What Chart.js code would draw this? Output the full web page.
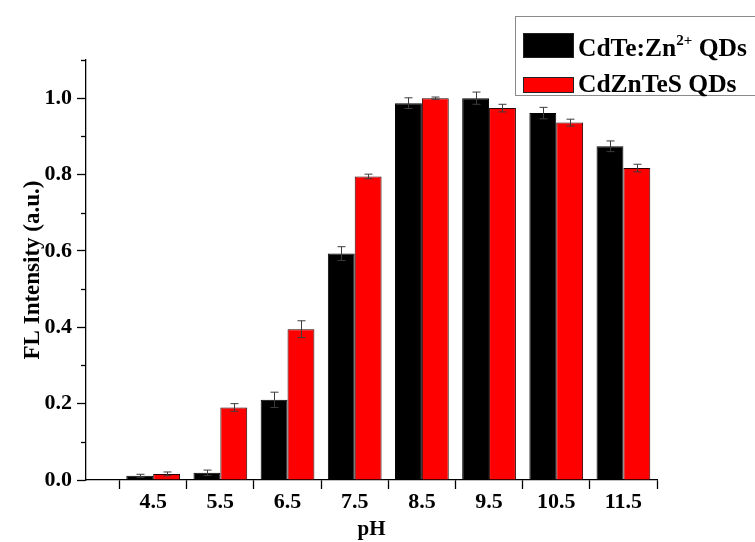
<!DOCTYPE html>
<html>
<head>
<meta charset="utf-8">
<script src="https://cdn.jsdelivr.net/npm/chart.js@4.4.1/dist/chart.umd.min.js"></script>
<style>
  html, body { margin: 0; padding: 0; background: #fff; }
  #wrap { position: relative; width: 755px; height: 542px; overflow: hidden; }
  #legendBox { position: absolute; left: 515px; top: 16px; width: 260px; height: 80px; border: 1.5px solid #8a8a8a; box-sizing: border-box; background: #fff; }
  .sw { position: absolute; left: 523px; width: 51px; box-sizing: border-box; border: 1px solid #222; }
  .lt { position: absolute; left: 578px; font: bold 25.5px "Liberation Serif", "Times New Roman", serif; line-height: 26px; white-space: nowrap; color: #000; }
  .lt sup { font-size: 15px; vertical-align: 0; position: relative; top: -11px; line-height: 0; }
</style>
</head>
<body>
<div id="wrap">
  <canvas id="c" width="755" height="542"></canvas>
  <div id="legendBox"></div>
</div>
<script>
// ---- data ----
const phLabels   = ['4.5', '5.5', '6.5', '7.5', '8.5', '9.5', '10.5', '11.5'];
const phValues   = [4.5, 5.5, 6.5, 7.5, 8.5, 9.5, 10.5, 11.5];
const xTickMarks = [4, 5, 6, 7, 8, 9, 10, 11, 12];
const seriesNames = ['CdTe:Zn²⁺ QDs', 'CdZnTeS QDs'];
const legendHtml  = ['CdTe:Zn<sup>2+</sup> QDs', 'CdZnTeS QDs'];
const cdteZn      = [0.011, 0.019, 0.210, 0.593, 0.987, 1.000, 0.961, 0.874];
const cdteZnErr   = [0.004, 0.007, 0.020, 0.018, 0.014, 0.016, 0.015, 0.014];
const cdZnTeS     = [0.016, 0.190, 0.395, 0.795, 1.000, 0.974, 0.936, 0.817];
const cdZnTeSErr  = [0.005, 0.010, 0.022, 0.006, 0.003, 0.010, 0.009, 0.010];
const yTickLabels = ['0.0', '0.2', '0.4', '0.6', '0.8', '1.0'];

const colors = ['#000000', '#ff0000'];
const borders = ['#000000', '#2a0000'];
const errs = [cdteZnErr, cdZnTeSErr];

const FONT = '"Liberation Serif", "Times New Roman", serif';

const errorBars = {
  id: 'errorBars',
  afterDatasetsDraw(chart) {
    const ctx = chart.ctx;
    const ys = chart.scales.y;
    ctx.save();
    ctx.strokeStyle = '#3c3c3c';
    ctx.lineWidth = 1;
    chart.data.datasets.forEach((ds, di) => {
      const meta = chart.getDatasetMeta(di);
      meta.data.forEach((bar, i) => {
        const v = ds.data[i].y, e = errs[di][i];
        const x = Math.round(bar.x) + 0.5;
        const t = ys.getPixelForValue(v + e), b = ys.getPixelForValue(v - e);
        const cap = 4;
        ctx.beginPath();
        ctx.moveTo(x, t); ctx.lineTo(x, b);
        ctx.moveTo(x - cap, t); ctx.lineTo(x + cap, t);
        ctx.moveTo(x - cap, b); ctx.lineTo(x + cap, b);
        ctx.stroke();
      });
    });
    ctx.restore();
  }
};

const minorTicks = {
  id: 'minorTicks',
  afterDraw(chart) {
    const ctx = chart.ctx;
    const ys = chart.scales.y;
    const x0 = chart.chartArea.left;
    ctx.save();
    ctx.strokeStyle = '#000';
    ctx.lineWidth = 1.3;
    ys.ticks.forEach(t => {
      const k = Math.round(t.value * 10);
      if (k % 2 !== 0) {
        const y = Math.round(ys.getPixelForValue(t.value)) + 0.5;
        ctx.beginPath();
        ctx.moveTo(x0 - 5, y); ctx.lineTo(x0, y);
        ctx.stroke();
      }
    });
    ctx.restore();
  }
};

const chart = new Chart(document.getElementById('c'), {
  type: 'bar',
  data: {
    datasets: [cdteZn, cdZnTeS].map((arr, di) => ({
      label: seriesNames[di],
      data: arr.map((v, i) => ({ x: phValues[i], y: v })),
      backgroundColor: colors[di],
      borderColor: borders[di],
      borderWidth: 1,
      categoryPercentage: 0.8,
      barPercentage: 1.0
    }))
  },
  options: {
    responsive: false,
    animation: false,
    layout: { padding: { left: 0, right: 98, top: 60, bottom: 0 } },
    plugins: { legend: { display: false }, tooltip: { enabled: false } },
    scales: {
      x: {
        type: 'linear',
        min: 3.5, max: 12,
        offset: false,
        afterBuildTicks: s => { s.ticks = xTickMarks.map(v => ({ value: v })); },
        afterFit: s => { s.height = 62; },
        border: { display: true, color: '#000', width: 1.3 },
        grid: {
          offset: false,
          drawOnChartArea: false, drawTicks: true, tickLength: 9,
          tickColor: '#000', tickWidth: 1.3
        },
        ticks: {
          autoSkip: false, maxRotation: 0, padding: 0,
          labelOffset: 33.6,
          color: '#000',
          font: { family: FONT, size: 22, weight: 'bold' },
          callback: v => {
            const i = phValues.findIndex(p => Math.abs(p - (v + 0.5)) < 1e-6);
            return i >= 0 ? phLabels[i] : '';
          }
        },
        title: {
          display: true, text: 'pH', color: '#000',
          font: { family: FONT, size: 21, weight: 'bold', lineHeight: 1.2 },
          padding: { top: 0, bottom: 0 }
        }
      },
      y: {
        min: 0, max: 1.1,
        afterFit: s => { s.width = 86; },
        border: { display: true, color: '#000', width: 1.3 },
        grid: {
          drawOnChartArea: false, drawTicks: true, tickLength: 9,
          tickColor: c => (c.tick && Math.round(c.tick.value * 10) % 2 === 0) ? '#000' : 'rgba(0,0,0,0)',
          tickWidth: 1.3
        },
        ticks: {
          stepSize: 0.1, autoSkip: false, padding: 5,
          color: '#000',
          font: { family: FONT, size: 22, weight: 'bold' },
          callback: v => {
            const k = Math.round(v * 10);
            return k % 2 === 0 ? (yTickLabels[k / 2] || '') : '';
          }
        },
        title: {
          display: true, text: 'FL Intensity (a.u.)', color: '#000',
          font: { family: FONT, size: 23, weight: 'bold', lineHeight: 1.2 },
          padding: { top: 19, bottom: 0 }
        }
      }
    }
  },
  plugins: [errorBars, minorTicks]
});

// HTML legend (allows the superscript in the first series name)
const wrap = document.getElementById('wrap');
const swTops = [33, 77], swHeights = [25, 16], textTops = [35, 71];
legendHtml.forEach((html, i) => {
  const sw = document.createElement('div');
  sw.className = 'sw';
  sw.style.top = swTops[i] + 'px';
  sw.style.height = swHeights[i] + 'px';
  sw.style.background = colors[i];
  wrap.appendChild(sw);
  const t = document.createElement('div');
  t.className = 'lt';
  t.style.top = textTops[i] + 'px';
  t.innerHTML = html;
  wrap.appendChild(t);
});
</script>
</body>
</html>
